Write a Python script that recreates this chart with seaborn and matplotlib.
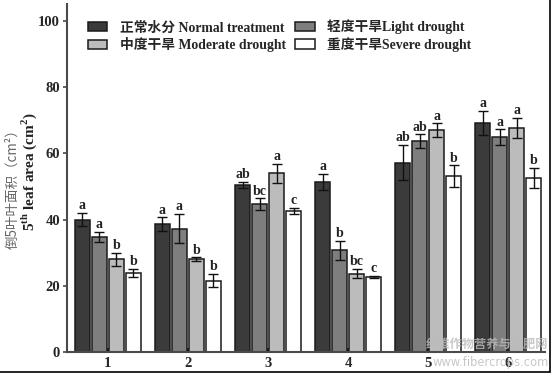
import matplotlib
matplotlib.use("Agg")
import matplotlib.pyplot as plt
from matplotlib.lines import Line2D
from matplotlib.font_manager import FontProperties
import seaborn as sns
import pandas as pd

# leaf stage (x categories)
stages = ["1", "2", "3", "4", "5", "6"]
treatments = ["正常水分 Normal treatment", "轻度干旱Light drought",
              "中度干旱 Moderate drought", "重度干旱Severe drought"]

# 5th leaf area (cm2)
normal = [40.0, 38.7, 50.5, 51.4, 57.2, 69.1]
light = [34.8, 37.3, 44.7, 30.8, 63.7, 64.9]
moderate = [28.1, 28.1, 54.0, 23.7, 67.0, 67.6]
severe = [23.9, 21.6, 42.7, 22.8, 53.2, 52.6]

normal_err = [2.0, 2.0, 1.0, 2.5, 5.3, 3.7]
light_err = [1.5, 4.4, 1.7, 2.8, 2.0, 2.3]
moderate_err = [2.0, 0.6, 2.8, 1.4, 2.0, 3.0]
severe_err = [1.2, 2.0, 0.9, 0.3, 3.2, 3.0]

normal_sig = ["a", "a", "ab", "a", "ab", "a"]
light_sig = ["a", "a", "bc", "b", "ab", "a"]
moderate_sig = ["b", "b", "a", "bc", "a", "a"]
severe_sig = ["b", "b", "c", "c", "b", "b"]

colors = ["#3b3b3b", "#7e7e7e", "#bcbcbc", "#ffffff"]

sns.set_style("ticks")
plt.rcParams["font.family"] = ["Liberation Serif", "Noto Sans CJK SC"]
plt.rcParams["font.weight"] = "bold"
plt.rcParams["mathtext.fontset"] = "custom"
plt.rcParams["mathtext.rm"] = "Liberation Serif:bold"
plt.rcParams["mathtext.bf"] = "Liberation Serif:bold"

errs = [normal_err, light_err, moderate_err, severe_err]
sigs = [normal_sig, light_sig, moderate_sig, severe_sig]

df = pd.DataFrame({
    "stage": stages * 4,
    "treatment": [t for t in treatments for _ in stages],
    "area": normal + light + moderate + severe,
})

fig = plt.figure(figsize=(5.54, 3.74), dpi=100)
ax = fig.add_axes([0.121, 0.0575, 0.863, 0.932])

sns.barplot(data=df, x="stage", y="area", hue="treatment", order=stages,
            hue_order=treatments, palette=colors, errorbar=None,
            width=0.85, gap=0.12, edgecolor="#1a1a1a", linewidth=1.1, ax=ax)

# error bars and significance letters on top of each bar
for cont, err, sig in zip(ax.containers, errs, sigs):
    for bar, e, s in zip(cont, err, sig):
        xc = bar.get_x() + bar.get_width() / 2
        h = bar.get_height()
        ax.errorbar(xc, h, yerr=e, fmt="none", ecolor="#111111",
                    elinewidth=1.0, capsize=3.5, capthick=1.0)
        ax.annotate(s, (xc, h + e), xytext=(0, 0.5), textcoords="offset points",
                    ha="center", va="bottom", fontsize=10, fontweight="bold",
                    color="#222222")

ax.set_ylim(0, 105)
ax.set_xlim(-0.51, 5.46)
ax.set_yticks([0, 20, 40, 60, 80, 100])
ax.set_xlabel("")
ax.set_ylabel("")
sns.despine(ax=ax)
for sp in ["left", "bottom"]:
    ax.spines[sp].set_color("#4a4a4a")
    ax.spines[sp].set_linewidth(1.5)
ax.tick_params(axis="y", direction="out", length=3, width=1.2,
               color="#4a4a4a", labelsize=10.5, pad=2)
ax.tick_params(axis="x", direction="in", length=3, width=1.5,
               color="#222222", labelsize=10.5, pad=3)

# legend: two rows, Normal/Light on top, Moderate/Severe below
handles, labels = ax.get_legend_handles_labels()
order = [0, 2, 1, 3]
leg_font = FontProperties(family=["Liberation Serif", "Noto Sans CJK SC"],
                          weight="bold", size=9.9)
ax.legend([handles[i] for i in order], [labels[i] for i in order],
          ncol=2, loc="upper left", bbox_to_anchor=(0.044, 0.955),
          frameon=False, prop=leg_font, borderpad=0, borderaxespad=0,
          handlelength=1.4, handleheight=0.65, handletextpad=0.9,
          columnspacing=0.7, labelspacing=0.2)

# y labels (Chinese + English)
fig.text(0.022, 0.505, "倒5叶叶面积（cm²）", rotation=90, ha="center",
         va="center", fontsize=9.7, fontweight="normal", color="#666666",
         family=["Noto Sans CJK SC", "DejaVu Sans"])
fig.text(0.053, 0.54, r"5$^{\mathrm{th}}$ leaf area (cm$^{\mathrm{2}}$)",
         rotation=90, ha="center", va="center", fontsize=11,
         fontweight="bold", color="#222222")

# watermark
fig.text(0.99, 0.078, "纤维作物营养与施肥网", ha="right", va="center",
         fontsize=8.8, color="#bbbbbb", alpha=0.8,
         family=["Noto Sans CJK SC", "DejaVu Sans"])
fig.text(0.99, 0.032, "www.fibercrops.com", ha="right", va="center",
         fontsize=8.3, fontweight="normal", color="#bbbbbb", alpha=0.8,
         family=["DejaVu Sans"])

# frame lines on bottom and right of the picture
fig.add_artist(Line2D([0, 0.993], [0.006, 0.006], transform=fig.transFigure,
                      color="black", linewidth=1.2))
fig.add_artist(Line2D([0.993, 0.993], [0.006, 1.0], transform=fig.transFigure,
                      color="black", linewidth=1.2))

fig.savefig("out.png", dpi=100)
